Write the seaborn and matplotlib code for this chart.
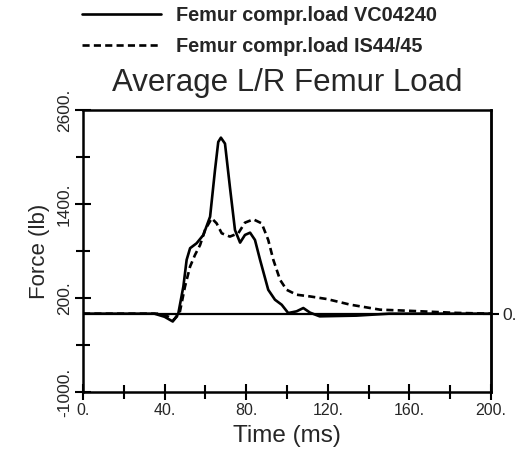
import matplotlib
matplotlib.use("Agg")
import matplotlib.pyplot as plt
import seaborn as sns
import pandas as pd
from matplotlib.lines import Line2D

# ---- data ----
t_vc = [0, 35, 40, 44, 46.7, 49.2, 50.8, 52.5, 55.7, 59, 62.3, 64.7, 66.3, 67.6, 69.6, 72,
        74.5, 77, 79.4, 81.9, 84.3, 86.8, 90.8, 94.1, 97.4, 100.6, 104.7, 108, 111.3, 116,
        134, 150, 200]
f_vc = [0, 0, -40, -100, 0, 347, 687, 836, 899, 1005, 1238, 1832, 2192, 2247, 2171, 1620,
        1068, 907, 1005, 1034, 941, 687, 305, 178, 114, 8, 30, 72, 13, -34,
        -25, 0, 0]

t_is = [0, 38, 42, 44.5, 47.3, 50, 52.5, 54.9, 57.4, 59.8, 63.1, 65.5, 68, 72, 76.1, 79.4,
        83.5, 87.6, 90.8, 93.3, 96.6, 99.8, 104.7, 111.3, 119.5, 131, 145.6, 158.7, 183, 200]
f_is = [0, 0, -40, -80, 0, 347, 602, 750, 877, 1068, 1217, 1153, 1026, 984, 1026, 1162,
        1204, 1153, 941, 687, 432, 305, 242, 220, 187, 115, 51, 38, 10, 0]

label_vc = "Femur compr.load VC04240"
label_is = "Femur compr.load IS44/45"
title = "Average L/R Femur Load"
xlabel = "Time (ms)"
ylabel = "Force (lb)"
xticks = [0, 40, 80, 120, 160, 200]
xtick_labels = ["0.", "40.", "80.", "120.", "160.", "200."]
xminor = [20, 60, 100, 140, 180]
yticks = [2600, 1400, 200, -1000]
ytick_labels = ["2600.", "1400.", "200.", "-1000."]
yminor = [2000, 800, -400]

sns.set_theme(style="white")
plt.rcParams['font.family'] = ['Liberation Sans', 'DejaVu Sans']

fig = plt.figure(figsize=(5.25, 4.51), dpi=100)
ax = fig.add_axes([83/525, 1-392/451, (491-83)/525, (392-110)/451])

df_vc = pd.DataFrame({"t": t_vc, "f": f_vc})
df_is = pd.DataFrame({"t": t_is, "f": f_is})
lw = 1.9
dash = (0, (2.7, 1.6))
sns.lineplot(data=df_vc, x="t", y="f", ax=ax, color="black", lw=lw, label=label_vc, legend=False)
sns.lineplot(data=df_is, x="t", y="f", ax=ax, color="black", lw=lw, linestyle=dash,
             label=label_is, legend=False)
ax.axhline(0, color="black", lw=1.6, zorder=1)

ax.set_xlim(0, 200)
ax.set_ylim(-1000, 2600)
ax.set_xticks(xticks)
ax.set_xticklabels(xtick_labels, fontsize=11.5)
ax.set_xticks(xminor, minor=True)
ax.set_yticks(yticks)
ax.set_yticklabels(ytick_labels, fontsize=12.5, rotation=90, va="center")
ax.set_yticks(yminor, minor=True)
ax.tick_params(which="major", direction="inout", length=12, width=1.5, color="black", pad=2)
ax.tick_params(which="minor", direction="inout", length=10, width=1.5, color="black")
ax.tick_params(axis="both", which="both", bottom=True, left=True)
for s in ax.spines.values():
    s.set_color("black")
    s.set_linewidth(1.8)

ax.set_xlabel(xlabel, fontsize=17.5, labelpad=5)
ax.set_ylabel(ylabel, fontsize=16, labelpad=5)
ax.set_title(title, fontsize=22.5, pad=14)

sec = ax.secondary_yaxis("right")
sec.set_yticks([0])
sec.set_yticklabels(["0."], fontsize=12.5)
sec.tick_params(direction="inout", length=12, width=1.5, color="black", pad=2)
sec.spines["right"].set_linewidth(1.8)

handles = [Line2D([], [], color="black", lw=lw),
           Line2D([], [], color="black", lw=lw, linestyle=dash)]
leg = fig.legend(handles, [label_vc, label_is], loc="upper left",
                 bbox_to_anchor=(82/525, 1-6/451), frameon=False,
                 prop={"size": 14.3, "weight": "bold"}, handlelength=4.0,
                 handletextpad=0.75, labelspacing=0.62, borderpad=0, borderaxespad=0)

fig.savefig("out.png", dpi=100)
